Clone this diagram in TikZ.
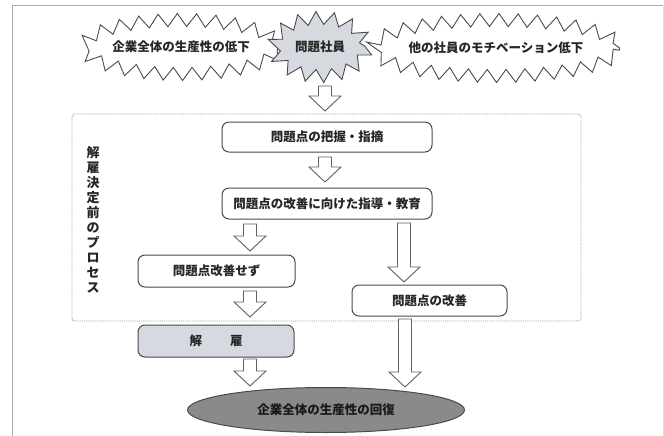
\documentclass[tikz,border=0pt]{standalone}
\usepackage{fontspec}
\newfontfamily\cjk{Noto Sans CJK JP}
\usetikzlibrary{shapes.geometric,decorations.pathmorphing}
\definecolor{edge}{HTML}{4A4A4A}
\definecolor{lightfill}{HTML}{D6D9DF}
\definecolor{darkfill}{HTML}{8A8A8C}
\newcommand\blockarrow[3]{% x, y top, y tip
  \draw[barr] (#1-6.5,#2) -- (#1+6.5,#2) -- (#1+6.5,#3-15) -- (#1+16,#3-15) -- (#1,#3) -- (#1-16,#3-15) -- (#1-6.5,#3-15) -- cycle;}
\begin{document}
\begin{tikzpicture}[x=1pt,y=-1pt,
  txt/.style={font=\cjk\bfseries\fontsize{12.5}{14}\selectfont, text=black!85},
  burst/.style={txt, ellipse, draw=edge, line width=0.9pt, inner sep=0pt,
    decorate, decoration={zigzag, segment length=19pt, amplitude=6.5pt}},
  rbox/.style={txt, draw=edge, line width=1pt, rounded corners=7pt, fill=white, inner sep=0pt},
  barr/.style={draw=gray!75!black, line width=0.9pt, fill=white, line join=miter}]
\useasboundingbox (0,0) rectangle (664,436);
% page frame
\draw[gray!65, line width=1pt] (12,436) -- (12,6) -- (663,6);
\draw[gray!25, line width=0.6pt] (663,6) -- (663,436);
% starbursts
\node[burst, minimum width=160pt, minimum height=54pt] (s1) at (181,47) {企業全体の生産性の低下};
\node[burst, fill=lightfill, minimum width=92pt, minimum height=58pt,
  decoration={zigzag, segment length=17pt, amplitude=6.5pt}] (s2) at (320,47) {問題社員};
\node[burst, minimum width=210pt, minimum height=56pt] (s3) at (496,48) {他の社員のモチベーション低下};
% dotted process frame
\draw[gray!80, densely dotted, line width=0.9pt, rounded corners=3pt] (72,114) rectangle (581,321);
\node[txt, align=center, inner sep=0pt, font=\cjk\bfseries\fontsize{13}{15}\selectfont] (vt) at (93,220)
  {解\\雇\\決\\定\\前\\の\\プ\\ロ\\セ\\ス};
% boxes
\node[rbox, minimum width=210pt, minimum height=30pt] (b1) at (327,137) {問題点の把握・指摘};
\node[rbox, minimum width=210pt, minimum height=31pt] (b2) at (327,203.5) {問題点の改善に向けた指導・教育};
\node[rbox, minimum width=157pt, minimum height=32pt] (b3) at (216.5,271) {問題点改善せず};
\node[rbox, minimum width=155pt, minimum height=31pt] (b4) at (429.5,300.5) {問題点の改善};
\node[rbox, fill=lightfill, minimum width=156pt, minimum height=32pt] (b5) at (216,341) {解\hspace{28pt}雇};
\node[ellipse, draw=edge, line width=1pt, fill=darkfill, txt, text=black!90,
  minimum width=277pt, minimum height=45pt, inner sep=0pt] (e) at (326,410) {企業全体の生産性の回復};
% block arrows
\blockarrow{325}{86}{111}
\blockarrow{325}{157}{182}
\blockarrow{250}{224}{251}
\blockarrow{250}{291}{317}
\blockarrow{404}{223}{282}
\blockarrow{250}{359}{386}
\blockarrow{405}{319}{387}
\end{tikzpicture}
\end{document}
